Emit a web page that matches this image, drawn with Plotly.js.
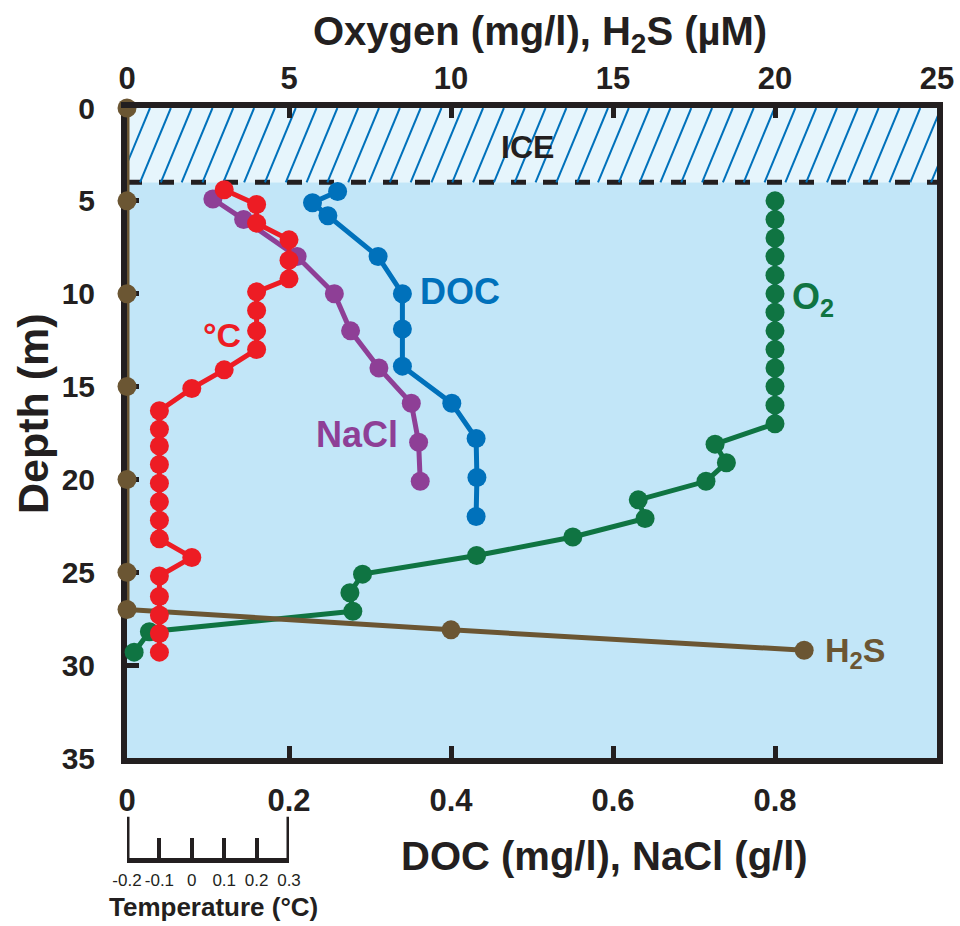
<!DOCTYPE html>
<html>
<head>
<meta charset="utf-8">
<script src="https://cdn.plot.ly/plotly-3.0.1.min.js"></script>
<style>html,body{margin:0;padding:0;background:#fff;}#chart{width:960px;height:926px;}</style>
</head>
<body>
<div id="chart"></div>
<script>
// ---- data ----
// Temperature (°C) vs depth (m)
const tempDepth = [4.4, 5.2, 6.2, 7.1, 8.2, 9.2, 9.9, 10.9, 12.0, 13.0, 14.1, 15.1, 16.3, 17.3, 18.2, 19.2, 20.2, 21.2, 22.2, 23.2, 24.2, 25.2, 26.3, 27.3, 28.3, 29.3];
const tempVal   = [0.1, 0.2, 0.2, 0.3, 0.3, 0.3, 0.2, 0.2, 0.2, 0.2, 0.1, 0.0, -0.1, -0.1, -0.1, -0.1, -0.1, -0.1, -0.1, -0.1, 0.0, -0.1, -0.1, -0.1, -0.1, -0.1];
// NaCl (g/l)
const naclDepth = [4.9, 6.0, 8.0, 10.0, 12.0, 14.0, 15.9, 18.0, 20.1];
const naclVal   = [0.106, 0.144, 0.21, 0.256, 0.276, 0.311, 0.351, 0.36, 0.362];
// DOC (mg/l)
const docDepth = [4.5, 5.1, 5.8, 8.0, 10.0, 11.9, 13.9, 15.9, 17.8, 19.9, 22.0];
const docVal   = [0.26, 0.229, 0.248, 0.31, 0.34, 0.34, 0.34, 0.401, 0.431, 0.432, 0.431];
// Oxygen (mg/l)
const o2Depth = [5, 6, 7, 8, 9, 10, 11, 12, 13, 14, 15, 16, 17, 18.1, 19.1, 20.1, 21.1, 22.1, 23.1, 24.1, 25.1, 26.1, 27.1, 28.2, 29.3];
const o2Val   = [20, 20, 20, 20, 20, 20, 20, 20, 20, 20, 20, 20, 20, 18.15, 18.5, 17.87, 15.78, 15.99, 13.76, 10.79, 7.27, 6.88, 6.97, 0.69, 0.22];
// H2S (µM)
const h2sDepth = [0, 5, 10, 15, 20, 25, 27, 28.1, 29.2];
const h2sVal   = [0, 0, 0, 0, 0, 0, 0, 10.0, 20.9];
// axis ticks
const depthTicks = [0, 5, 10, 15, 20, 25, 30, 35];
const topTicks = [0, 5, 10, 15, 20, 25];
const bottomTicks = [0, 0.2, 0.4, 0.6, 0.8];
const bottomTickText = ['0', '0.2', '0.4', '0.6', '0.8'];
const tempTicks = [-0.2, -0.1, 0, 0.1, 0.2, 0.3];
const tempTickText = ['-0.2', '-0.1', '0', '0.1', '0.2', '0.3'];
const iceDepth = 4;

// ---- styles ----
const INK = '#231f20';
const RED = '#ed1c24', PURPLE = '#8e3f96', BLUE = '#0071bb', GREEN = '#0f7442', BROWN = '#6b5633';
const SANS = 'Liberation Sans, Arial, sans-serif';
const NARROW = 'Liberation Sans Narrow, Arial Narrow, Liberation Sans, sans-serif';

function series(x, y, color, xaxis, extra) {
  return Object.assign({
    x: x, y: y, xaxis: xaxis, yaxis: 'y', type: 'scatter', mode: 'lines+markers',
    line: {color: color, width: 5}, marker: {color: color, size: 19},
    showlegend: false, hoverinfo: 'skip', cliponaxis: false
  }, extra || {});
}

const traces = [
  series(o2Val, o2Depth, GREEN, 'x2'),
  series(naclVal, naclDepth, PURPLE, 'x'),
  series(docVal, docDepth, BLUE, 'x'),
  series(tempVal, tempDepth, RED, 'x3'),
  series(h2sVal, h2sDepth, BROWN, 'x2'),
  {x: [], y: [], xaxis: 'x4', yaxis: 'y2', type: 'scatter', mode: 'markers', showlegend: false, hoverinfo: 'skip'}
];

// ---- background shapes (ice, water, hatching) ----
const shapes = [
  {type: 'rect', xref: 'paper', yref: 'y', x0: 0, x1: 1, y0: iceDepth, y1: 35, fillcolor: '#c2e6f8', line: {width: 0}, layer: 'below'},
  {type: 'rect', xref: 'paper', yref: 'y', x0: 0, x1: 1, y0: 0, y1: iceDepth, fillcolor: '#e6f5fc', line: {width: 0}, layer: 'below'}
];
const hatchStep = 0.0257, hatchSlant = 0.038, hatchStart = 0.0284;
for (let k = -2; k < 42; k++) {
  const xt = hatchStart + k * hatchStep;
  shapes.push({type: 'line', xref: 'x', yref: 'y', x0: xt - hatchSlant, y0: iceDepth, x1: xt, y1: 0,
    line: {color: BLUE, width: 2}, layer: 'below'});
}
shapes.push({type: 'line', xref: 'paper', yref: 'y', x0: 0, x1: 1, y0: iceDepth, y1: iceDepth,
  line: {color: INK, width: 5, dash: '15px,17px'}, layer: 'below'});
// end bars of the temperature scale
[-0.2, 0.3].forEach(function (t) {
  shapes.push({type: 'line', xref: 'x4', yref: 'paper', x0: t, x1: t, y0: 0, y1: 0.055, line: {color: INK, width: 5}});
});

const lbl = (text, x, y, color, size, extra) => Object.assign({
  text: text, x: x, y: y, xref: 'x', yref: 'y', showarrow: false, xanchor: 'center', yanchor: 'middle',
  font: {family: SANS, size: size, color: color, weight: 'bold'}
}, extra || {});
const plbl = (text, x, y, family, size, extra) => Object.assign({
  text: text, x: x, y: y, xref: 'paper', yref: 'paper', showarrow: false, xanchor: 'center', yanchor: 'middle',
  font: {family: family, size: size, color: INK, weight: 'bold'}
}, extra || {});

const annotations = [
  lbl('ICE', 0.494, 2.1, INK, 32),
  lbl('DOC', 0.411, 9.9, BLUE, 36),
  lbl('°C', 0.117, 12.2, RED, 34),
  lbl('NaCl', 0.284, 17.6, PURPLE, 36),
  lbl('O<sub>2</sub>', 0.818, 10.3, GREEN, 36, {xanchor: 'left'}),
  lbl('H<sub>2</sub>S', 0.859, 29.3, BROWN, 34, {xanchor: 'left'}),
  plbl('Oxygen (mg/l), H<sub>2</sub>S (µM)', 0.51, 1.098, NARROW, 40),
  plbl('Depth (m)', -0.116, 0.592, SANS, 43, {textangle: -90}),
  plbl('DOC (mg/l), NaCl (g/l)', 0.589, 0.003, SANS, 40),
  plbl('Temperature (°C)', 0.107, -0.065, SANS, 26)
];

const layout = {
  width: 960, height: 926,
  margin: {l: 127, r: 23, t: 108, b: 68},
  paper_bgcolor: '#ffffff', plot_bgcolor: 'rgba(0,0,0,0)',
  showlegend: false,
  xaxis: {domain: [0, 1], range: [0, 1], anchor: 'y', side: 'bottom',
    tickvals: bottomTicks, ticktext: bottomTickText, ticks: 'inside', ticklen: 12, tickwidth: 5, tickcolor: INK,
    showline: true, linewidth: 6, linecolor: INK, showgrid: false, zeroline: false,
    tickfont: {family: SANS, size: 31, color: INK, weight: 'bold'}, ticklabelstandoff: 10},
  xaxis2: {overlaying: 'x', range: [0, 25], anchor: 'y', side: 'top',
    tickvals: topTicks, ticks: 'inside', ticklen: 10, tickwidth: 5, tickcolor: INK,
    showline: true, linewidth: 6, linecolor: INK, showgrid: false, zeroline: false,
    tickfont: {family: NARROW, size: 31, color: INK, weight: 'bold'}, ticklabelstandoff: 1},
  xaxis3: {overlaying: 'x', range: [-0.2, 2.3], visible: false},
  xaxis4: {domain: [0, 0.2], range: [-0.2, 0.3], anchor: 'y2',
    tickvals: tempTicks, ticktext: tempTickText, ticks: 'inside', ticklen: 20, tickwidth: 4, tickcolor: INK,
    showline: true, linewidth: 5, linecolor: INK, showgrid: false, zeroline: false,
    tickfont: {family: SANS, size: 17, color: INK}, ticklabelstandoff: 3},
  yaxis: {domain: [0.13333, 1], range: [35, 0], anchor: 'x', layer: 'below traces',
    tickvals: depthTicks, ticks: 'inside', ticklen: 12, tickwidth: 5, tickcolor: INK,
    showline: true, mirror: true, linewidth: 6, linecolor: INK, showgrid: false, zeroline: false,
    tickfont: {family: NARROW, size: 30, color: INK, weight: 'bold'}, ticklabelstandoff: 20},
  yaxis2: {domain: [0, 0.001], range: [0, 1], anchor: 'x4', visible: false},
  shapes: shapes,
  annotations: annotations
};

Plotly.newPlot('chart', traces, layout, {staticPlot: true, displayModeBar: false});
</script>
</body>
</html>
